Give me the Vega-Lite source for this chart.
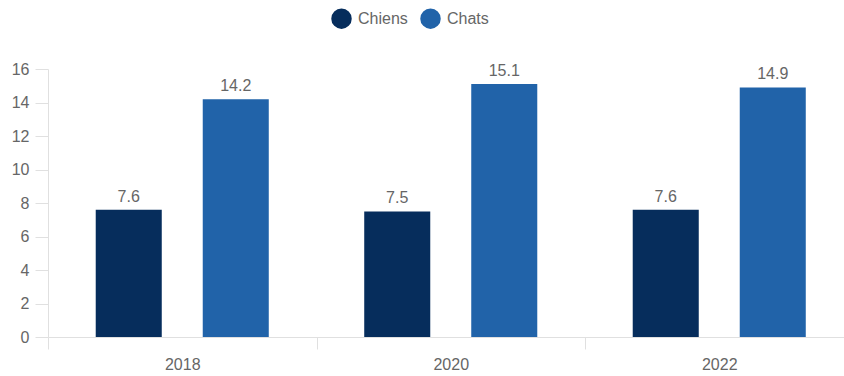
{
  "$schema": "https://vega.github.io/schema/vega-lite/v6.json",
  "width": 796,
  "height": 268,
  "autosize": {"type": "none"},
  "padding": {"left": 48, "top": 69, "right": 0, "bottom": 39},
  "background": "white",
  "config": {
    "view": {"stroke": null},
    "font": "Liberation Sans",
    "axis": {"labelFont": "Liberation Sans", "labelFontSize": 16, "labelColor": "#666666", "domainColor": "#e0e0e0", "tickColor": "#e0e0e0", "grid": false, "title": null},
    "legend": {"labelFont": "Liberation Sans", "labelFontSize": 16, "labelColor": "#666666"}
  },
  "data": {
    "values": [
      {"year": "2018", "animal": "Chiens", "value": 7.6},
      {"year": "2018", "animal": "Chats", "value": 14.2},
      {"year": "2020", "animal": "Chiens", "value": 7.5},
      {"year": "2020", "animal": "Chats", "value": 15.1},
      {"year": "2022", "animal": "Chiens", "value": 7.6},
      {"year": "2022", "animal": "Chats", "value": 14.9}
    ]
  },
  "encoding": {
    "x": {
      "field": "year",
      "type": "nominal",
      "scale": {"range": [0, 805.5], "paddingInner": 0, "paddingOuter": 0},
      "axis": {"labelAngle": 0, "tickBand": "extent", "tickSize": 12, "labelPadding": 7}
    },
    "y": {
      "field": "value",
      "type": "quantitative",
      "scale": {"domain": [0, 16]},
      "axis": {"values": [0, 2, 4, 6, 8, 10, 12, 14, 16], "tickSize": 13, "labelPadding": 6}
    },
    "xOffset": {
      "field": "animal",
      "type": "nominal",
      "scale": {"domain": ["Chiens", "Chats"], "paddingInner": 0.383, "paddingOuter": 0.446}
    }
  },
  "layer": [
    {
      "mark": {"type": "bar"},
      "encoding": {
        "color": {
          "field": "animal",
          "type": "nominal",
          "scale": {"domain": ["Chiens", "Chats"], "range": ["#062d5c", "#2163a9"]},
          "legend": {
            "title": null,
            "orient": "none",
            "direction": "horizontal",
            "legendX": 283,
            "legendY": -61,
            "symbolType": "circle",
            "symbolSize": 420,
            "symbolStrokeWidth": 0,
            "symbolOpacity": 1,
            "labelOffset": 6,
            "columnPadding": 12,
            "padding": 0
          }
        }
      }
    },
    {
      "mark": {"type": "text", "baseline": "alphabetic", "dy": -8, "fontSize": 16, "color": "#666666", "font": "Liberation Sans"},
      "encoding": {
        "text": {"field": "value", "type": "quantitative", "format": ".1f"}
      }
    }
  ]
}
